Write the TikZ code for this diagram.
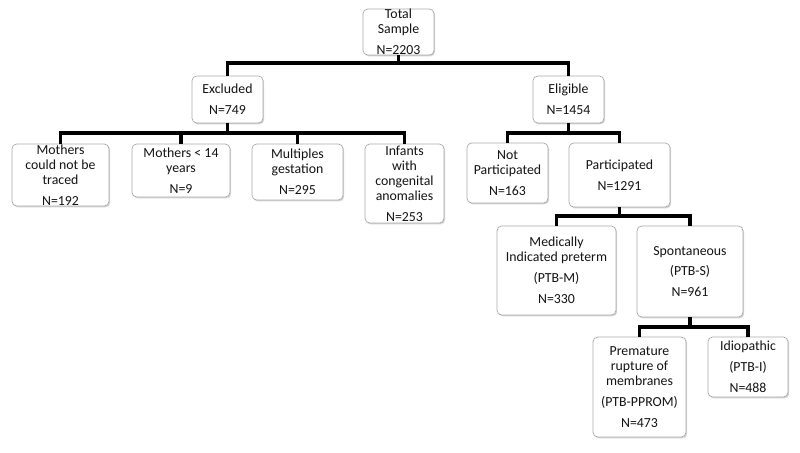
\documentclass[tikz,border=0pt]{standalone}
\usepackage{fontspec}
\setmainfont{Carlito}
\usetikzlibrary{shadows}
\definecolor{boxgray}{RGB}{170,170,170}
\definecolor{textgray}{RGB}{20,20,20}
\tikzset{
  box/.style={draw=boxgray, line width=0.6pt, rounded corners=4pt, fill=white,
    align=center, inner xsep=2pt, inner ysep=-4pt, text=textgray,
    font=\fontsize{11.8}{12.8}\selectfont,
    drop shadow={shadow xshift=1pt, shadow yshift=-1.2pt, opacity=0.35}},
  link/.style={line width=3.2pt, black}
}
\begin{document}
\begin{tikzpicture}[x=0.03cm, y=-0.03cm]
\useasboundingbox (0,0) rectangle (800,453);
% boxes
\node[box, minimum width=2.13cm, minimum height=1.38cm] (total) at (398.5,32) {Total\\Sample\\[5pt]N=2203};
\node[box, minimum width=2.13cm, minimum height=1.41cm] (excl) at (227.5,99.5) {Excluded\\[5pt]N=749};
\node[box, minimum width=2.13cm, minimum height=1.41cm] (elig) at (568.5,99.5) {Eligible\\[5pt]N=1454};
\node[box, minimum width=2.91cm, minimum height=1.86cm] (trace) at (60.5,175) {Mothers\\could not be\\traced\\[5pt]N=192};
\node[box, minimum width=2.94cm, minimum height=1.59cm] (young) at (181,170.5) {Mothers < 14\\years\\[5pt]N=9};
\node[box, minimum width=2.73cm, minimum height=1.68cm] (multi) at (297.5,172) {Multiples\\gestation\\[5pt]N=295};
\node[box, minimum width=2.37cm, minimum height=2.37cm] (anom) at (404.5,183.5) {Infants\\with\\congenital\\anomalies\\[5pt]N=253};
\node[box, minimum width=2.43cm, minimum height=1.80cm] (notp) at (507.5,173) {Not\\Participated\\[5pt]N=163};
\node[box, minimum width=3.03cm, minimum height=1.92cm] (part) at (619.5,175) {Participated\\[5pt]N=1291};
\node[box, minimum width=3.57cm, minimum height=2.67cm] (medic) at (556.5,270.5) {Medically\\Indicated preterm\\[5pt](PTB-M)\\[5pt]N=330};
\node[box, minimum width=3.18cm, minimum height=2.73cm] (spont) at (690,271.5) {Spontaneous\\[5pt](PTB-S)\\[5pt]N=961};
\node[box, minimum width=2.79cm, minimum height=3.00cm] (prom) at (639.5,387) {Premature\\rupture of\\membranes\\[5pt](PTB-PPROM)\\[5pt]N=473};
\node[box, minimum width=2.40cm, minimum height=1.80cm] (idio) at (748,367) {Idiopathic\\[5pt](PTB-I)\\[5pt]N=488};
% bar heights
\coordinate (bar0) at (0,63);
\coordinate (bar1) at (0,133);
\coordinate (bar2) at (0,216);
\coordinate (bar3) at (0,327);
% connectors
\foreach \c in {excl,elig}
  \draw[link] (total.south) -- (total.south |- bar0) -| (\c.north);
\foreach \c in {trace,young,multi,anom}
  \draw[link] (excl.south) -- (excl.south |- bar1) -| (\c.north);
\foreach \c in {notp,part}
  \draw[link] (elig.south) -- (elig.south |- bar1) -| (\c.north);
\foreach \c in {medic,spont}
  \draw[link] (part.south) -- (part.south |- bar2) -| (\c.north);
\foreach \c in {prom,idio}
  \draw[link] (spont.south) -- (spont.south |- bar3) -| (\c.north);
\end{tikzpicture}
\end{document}
